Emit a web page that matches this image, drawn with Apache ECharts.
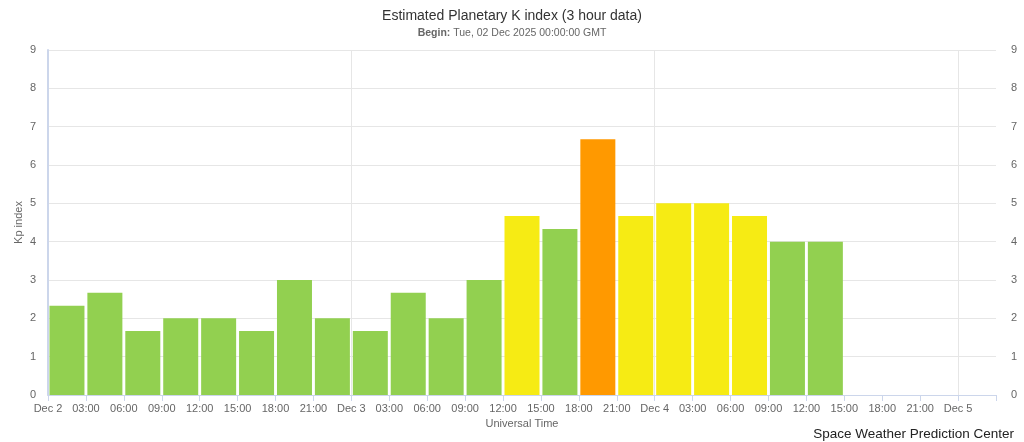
<!DOCTYPE html>
<html>
<head>
<meta charset="utf-8">
<script src="https://cdn.jsdelivr.net/npm/echarts@6/dist/echarts.min.js"></script>
<style>
  html, body { margin: 0; padding: 0; background: #fff; }
  #chart { width: 1024px; height: 442px; }
</style>
</head>
<body>
<div id="chart"></div>
<script>
// start hour of each 3-hour bar, counted from Dec 2 00:00 UT
const barStartHours = [0, 3, 6, 9, 12, 15, 18, 21, 24, 27, 30, 33, 36, 39, 42, 45, 48, 51, 54, 57, 60]
const kpValues = [2.33, 2.67, 1.67, 2.00, 2.00, 1.67, 3.00, 2.00,
  1.67, 2.67, 2.00, 3.00, 4.67, 4.33, 6.67, 4.67,
  5.00, 5.00, 4.67, 4.00, 4.00]
const dayNames = ['Dec 2', 'Dec 3', 'Dec 4', 'Dec 5']

function barColor(v) {
  if (v < 4.5) return '#92d050'
  if (v < 5.5) return '#f6eb14'
  return '#ff9900'
}

function hourLabel(h) {
  if (h >= 75) return ''
  if (h % 24 === 0) return dayNames[h / 24]
  const hh = h % 24
  return (hh < 10 ? '0' : '') + hh + ':00'
}

const labelStyle = { color: '#666', fontSize: 11, fontFamily: 'Liberation Sans, Arial, sans-serif' }

const chart = echarts.init(document.getElementById('chart'))
chart.setOption({
  animation: false,
  textStyle: { fontFamily: 'Liberation Sans, Arial, sans-serif' },
  title: [
    {
      text: 'Estimated Planetary K index (3 hour data)',
      left: 'center',
      top: 4,
      textStyle: { fontSize: 14, fontWeight: 'normal', color: '#333' },
      subtext: '{b|Begin:} Tue, 02 Dec 2025 00:00:00 GMT',
      itemGap: 5,
      subtextStyle: {
        fontSize: 10.5,
        color: '#666',
        rich: {
          b: { fontWeight: 'bold', fontSize: 10.5, color: '#666' }
        }
      }
    },
    {
      text: 'Space Weather Prediction Center',
      right: 5,
      bottom: -4,
      textStyle: { fontSize: 13.5, fontWeight: 'normal', color: '#222' }
    }
  ],
  grid: { left: 48, right: 28, top: 50, bottom: 47, outerBoundsMode: 'none' },
  xAxis: [
    {
      type: 'value',
      min: 0,
      max: 75,
      interval: 3,
      name: 'Universal Time',
      nameLocation: 'middle',
      nameGap: 23,
      nameTextStyle: { color: '#666', fontSize: 11 },
      axisLine: { show: true, lineStyle: { color: '#ccd6eb' } },
      axisTick: { show: true, length: 6, lineStyle: { color: '#ccd6eb' } },
      axisLabel: Object.assign({ margin: 8, formatter: hourLabel, showMaxLabel: true }, labelStyle),
      splitLine: { show: false }
    },
    {
      type: 'value',
      min: 0,
      max: 75,
      interval: 24,
      position: 'bottom',
      axisLine: { show: false },
      axisTick: { show: false },
      axisLabel: { show: false },
      // day boundary lines at 0, 24, 48, 72; none at the right edge
      splitLine: { show: true, lineStyle: { color: ['#e6e6e6', '#e6e6e6', '#e6e6e6', '#e6e6e6', 'rgba(0,0,0,0)'] } }
    }
  ],
  yAxis: [
    {
      type: 'value',
      min: 0,
      max: 9,
      interval: 1,
      name: 'Kp index',
      nameLocation: 'middle',
      nameGap: 24,
      nameMoveOverlap: false,
      nameTextStyle: { color: '#666', fontSize: 11 },
      axisLine: { show: true, lineStyle: { color: '#ccd6eb', width: 2 } },
      axisTick: { show: false },
      axisLabel: Object.assign({ margin: 12 }, labelStyle),
      splitLine: { show: true, lineStyle: { color: '#e6e6e6' } }
    },
    {
      type: 'value',
      min: 0,
      max: 9,
      interval: 1,
      position: 'right',
      axisLine: { show: false },
      axisTick: { show: false },
      axisLabel: Object.assign({ margin: 15 }, labelStyle),
      splitLine: { show: false }
    }
  ],
  series: [
    {
      type: 'bar',
      xAxisIndex: 0,
      yAxisIndex: 0,
      barWidth: 35,
      data: kpValues.map((v, i) => ({
        value: [barStartHours[i] + 1.5, v],
        itemStyle: { color: barColor(v) }
      }))
    }
  ]
})
</script>
</body>
</html>
